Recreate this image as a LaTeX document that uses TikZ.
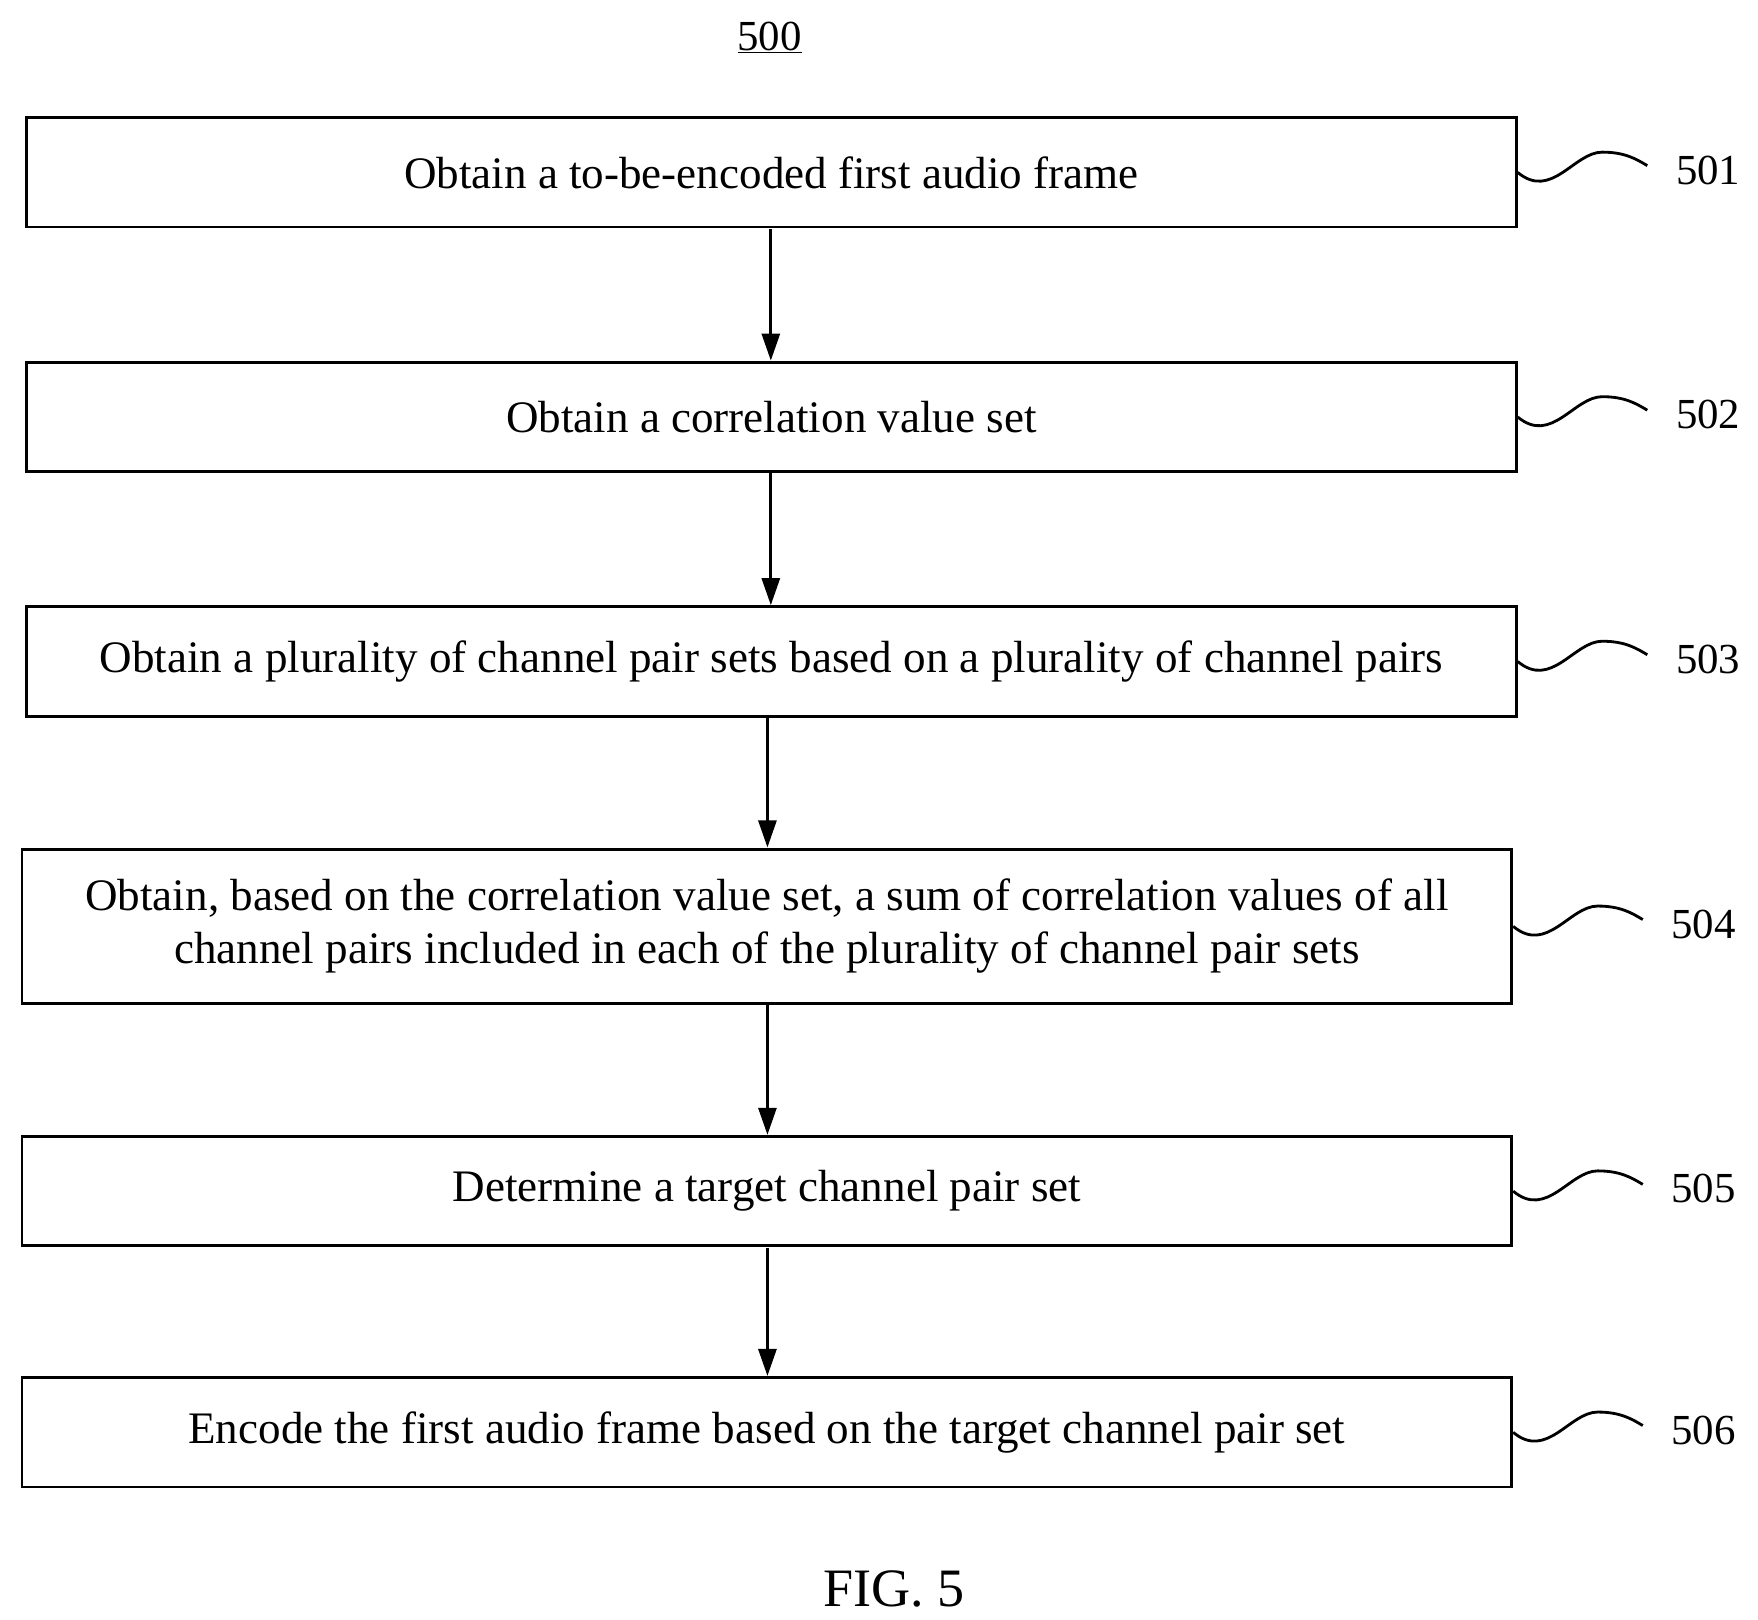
\documentclass[tikz,border=0pt]{standalone}
\usepackage{fontspec}
\setmainfont{Liberation Serif}
\usetikzlibrary{arrows.meta}
\begin{document}
\begin{tikzpicture}[x=1pt,y=-1pt,
 box/.style={draw,line width=2.5pt,minimum height=97pt,inner sep=0pt,align=center,font=\fontsize{40}{47}\selectfont},
 arr/.style={line width=2.5pt,-{Triangle[length=24pt,width=16pt]}},
 sq/.style={line width=2.5pt},
 lab/.style={font=\fontsize{38}{44}\selectfont,anchor=west}]
\useasboundingbox (0,0) rectangle (1560,1437);
\node at (683,33) {\fontsize{38}{44}\selectfont\underline{500}};
\node[box,minimum width=1322pt] (b1) at (684.5,153) {Obtain a to-be-encoded first audio frame};
\node[box,minimum width=1322pt] (b2) at (684.5,370) {Obtain a correlation value set};
\node[box,minimum width=1322pt] (b3) at (684.5,587) {Obtain a plurality of channel pair sets based on a plurality of channel pairs};
\node[box,minimum width=1322pt,minimum height=137pt] (b4) at (680.5,822) {Obtain, based on the correlation value set, a sum of correlation values of all\\channel pairs included in each of the plurality of channel pair sets};
\node[box,minimum width=1322pt] (b5) at (680.5,1057) {Determine a target channel pair set};
\node[box,minimum width=1322pt] (b6) at (680.5,1271) {Encode the first audio frame based on the target channel pair set};
\draw[arr] (684,203) -- (684,320);
\draw[arr] (684,420) -- (684,537);
\draw[arr] (681,637) -- (681,752);
\draw[arr] (681,892) -- (681,1007);
\draw[arr] (681,1107) -- (681,1221);
\foreach \n/\t in {b1/501,b2/502,b3/503,b4/504,b5/505,b6/506}{
 \draw[sq] (\n.east) .. controls +(30,25) and +(-25,0) .. ++(75,-18)
   .. controls +(20,0) and +(-10,-6) .. ++(40,12) coordinate (e\t);
 \node[lab] (l\t) at ([xshift=22pt,yshift=-4pt]e\t) {\t};
}
\node (fig) at (793,1410) {\fontsize{48}{56}\selectfont FIG. 5};
\end{tikzpicture}
\end{document}
